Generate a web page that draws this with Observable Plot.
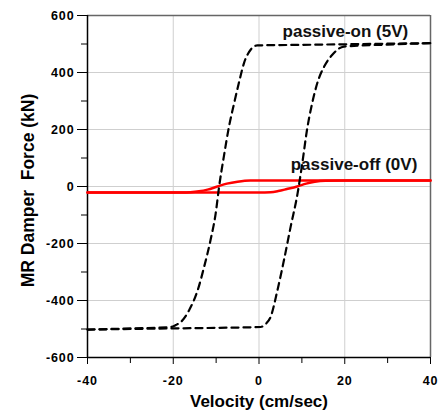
<!DOCTYPE html>
<html>
<head>
<meta charset="utf-8">
<script src="https://cdn.jsdelivr.net/npm/d3@7"></script>
<script src="https://cdn.jsdelivr.net/npm/@observablehq/plot@0.6"></script>
<style>
  html, body { margin: 0; padding: 0; background: #fff; }
  #chart svg { display: block; }
  #chart svg text { font-weight: bold; }
  #chart svg g[aria-label$="tick label"] text { font-size: 12.5px; letter-spacing: 0.9px; font-weight: bold; fill: #000; }
</style>
</head>
<body>
<div id="chart"></div>
<script>
// Passive-on (5V) hysteresis loop, dashed black
const onUpperX = [-40, -30, -20.6, -19.4, -18.2, -16.3, -14.3, -12.8, -11.3, -10.1, -9.3, -8.2, -7.0, -5.8, -4.7, -3.5, -1.95, -0.4, 10, 20, 30, 40];
const onUpperY = [-502, -498, -493, -486, -475, -434, -364, -282, -188, -94, 0, 105, 210, 292, 363, 433, 480, 495, 497, 499, 501, 503];
const onLowerX = [-40, -30, -20, -10, 0.4, 1.6, 2.7, 4.3, 5.8, 7.4, 9.0, 10.1, 11.2, 12.4, 13.6, 15.2, 17.1, 19.8, 30, 40];
const onLowerY = [-502, -500, -498, -496, -493, -482, -458, -364, -260, -140, -24, 82, 199, 292, 363, 421, 462, 491, 498, 503];

// Passive-off (0V) hysteresis loop, solid red
const offUpperX = [-40, -30, -18, -16, -14, -12, -9.7, -7.5, -5, -2, 0, 20, 40];
const offUpperY = [-21, -21, -21, -20, -17, -11, 0, 10, 17, 21, 21, 21, 21];
const offLowerX = [-40, -20, 0, 2.7, 4.5, 6.5, 8.9, 11, 13, 15.5, 20, 40];
const offLowerY = [-21, -21, -21, -20, -16, -9, 0, 10, 17, 20.5, 21, 21];

const xMajorTicks = [-40, -20, 0, 20, 40];
const xMinorTicks = [-30, -10, 10, 30];
const yMajorTicks = [-600, -400, -200, 0, 200, 400, 600];
const yMinorTicks = [-500, -300, -100, 100, 300, 500];
const xGrid = [-20, 0, 20];
const yGrid = [-400, -200, 0, 200, 400];

const xTitle = "Velocity (cm/sec)";
const yTitle = "MR Damper  Force (kN)";
const labels = [
  {text: "passive-on (5V)", x: 5.5, y: 543},
  {text: "passive-off (0V)", x: 7.4, y: 76}
];

const toPts = (xs, ys) => xs.map((x, i) => ({x, y: ys[i]}));
const branches = [
  {pts: toPts(onUpperX, onUpperY), kind: "on"},
  {pts: toPts(onLowerX, onLowerY), kind: "on"},
  {pts: toPts(offUpperX, offUpperY), kind: "off"},
  {pts: toPts(offLowerX, offLowerY), kind: "off"}
];

const font = "'Liberation Sans', Arial, Helvetica, sans-serif";

const marks = [
  Plot.gridX(xGrid, {stroke: "#cfcfcf", strokeOpacity: 1, strokeWidth: 1}),
  Plot.gridY(yGrid, {stroke: "#cfcfcf", strokeOpacity: 1, strokeWidth: 1}),
  Plot.ruleY([600], {stroke: "#666", strokeWidth: 1.5}),
  Plot.ruleX([40], {stroke: "#666", strokeWidth: 1.5}),
  Plot.axisY(yMinorTicks, {label: null, tickSize: 6, tickFormat: () => "", stroke: "#000", strokeWidth: 1}),
  Plot.axisY(yMajorTicks, {label: null, tickSize: 10, tickPadding: 3, tickFormat: d => String(d), stroke: "#000", strokeWidth: 1, fontSize: 12.5, fontWeight: "bold", fill: "#000"}),
  Plot.axisX(xMinorTicks, {label: null, tickSize: 6, tickFormat: () => "", stroke: "#000", strokeWidth: 1}),
  Plot.axisX(xMajorTicks, {label: null, tickSize: 7, tickPadding: 12, tickFormat: d => String(d), stroke: "#000", strokeWidth: 1, fontSize: 12.5, fontWeight: "bold", fill: "#000"}),
  Plot.ruleX([-40], {stroke: "#000", strokeWidth: 1.5}),
  Plot.ruleY([-600], {stroke: "#000", strokeWidth: 1.5}),
  ...branches.filter(b => b.kind === "off").map(b =>
    Plot.line(b.pts, {x: "x", y: "y", stroke: "#ff0000", strokeWidth: 2.5, curve: "monotone-x"})),
  ...branches.filter(b => b.kind === "on").map(b =>
    Plot.line(b.pts, {x: "x", y: "y", stroke: "#000", strokeWidth: 2.2, strokeDasharray: "7,5", curve: "monotone-x"})),
  Plot.text(labels, {x: "x", y: "y", text: "text", textAnchor: "start", lineAnchor: "middle", fontSize: 17, fontWeight: "bold", fill: "#111"}),
  Plot.text([xTitle], {frameAnchor: "bottom", dy: 44, textAnchor: "middle", lineAnchor: "middle", fontSize: 17, fontWeight: "bold", fill: "#000"}),
  Plot.text([yTitle], {frameAnchor: "left", dx: -59, dy: 4, rotate: -90, textAnchor: "middle", lineAnchor: "middle", fontSize: 17.5, fontWeight: "bold", fill: "#000"})
];

const chart = Plot.plot({
  width: 442,
  height: 410,
  marginLeft: 87,
  marginRight: 12,
  marginTop: 15,
  marginBottom: 53,
  x: {domain: [-40, 40], axis: null},
  y: {domain: [-600, 600], axis: null},
  style: {fontFamily: font, background: "#fff", fontWeight: "bold"},
  marks
});
document.getElementById("chart").appendChild(chart);
</script>
</body>
</html>
